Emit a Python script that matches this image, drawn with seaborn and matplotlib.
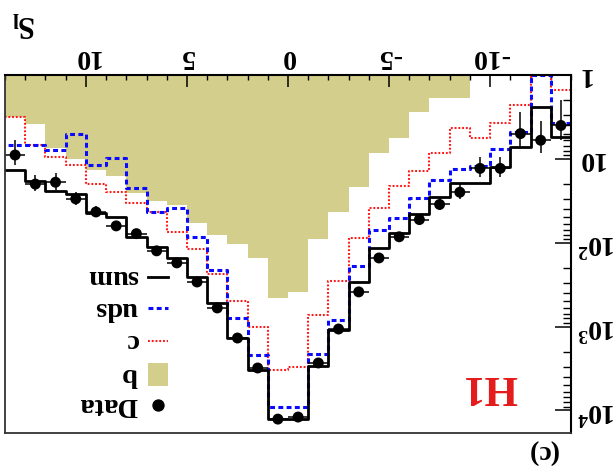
import numpy as np
import pandas as pd
import matplotlib
matplotlib.use("Agg")
import matplotlib.pyplot as plt
from matplotlib.lines import Line2D
from matplotlib.patches import Rectangle
from matplotlib.ticker import FixedLocator, FixedFormatter, LogLocator, NullFormatter, MultipleLocator
import seaborn as sns

# ---------------------------------------------------------------- data
# S_l bin centres (unit-width bins from -14 to 14)
s_l = [-13.5, -12.5, -11.5, -10.5, -9.5, -8.5, -7.5, -6.5, -5.5, -4.5,
       -3.5, -2.5, -1.5, -0.5, 0.5, 1.5, 2.5, 3.5, 4.5, 5.5,
       6.5, 7.5, 8.5, 9.5, 10.5, 11.5, 12.5, 13.5]

data_counts = [4, 6, 5, 13, 13, 25, 35, 53, 85, 152,
               386, 1070, 2720, 12000, 12700, 3120, 1370, 600, 294, 174,
               125, 78, 63, 43, 30, 19, 20, 9]

b_mc = [0, 0, 0, 0, 0, 1.89, 1.89, 2.73, 5.66, 8.55,
        21.4, 42.5, 90, 390, 452, 153, 104, 80.7, 58.5, 35.4,
        31.7, 25.7, 15.8, 13.5, 10.0, 7.45, 3.85, 3.2]

c_mc = [1.53, 1.0, 2.27, 3.7, 5.6, 4.3, 8.5, 13.9, 21.2, 38.7,
        87.6, 286, 728, 3060, 3300, 1000, 491, 236, 119, 75,
        42.5, 33.8, 25, 19.9, 12.0, 9.4, 6.9, 3.2]

uds_mc = [3.75, 1.0, 4.85, 7.6, 12.3, 13.3, 17.8, 29.2, 50.5, 70,
          189, 830, 2150, 9040, 9040, 2180, 796, 211, 84.5, 38.8,
          42.5, 22.4, 9.8, 12.0, 5.07, 7.8, 6.9, 6.9]

sum_mc = [5.45, 2.43, 7.2, 12.4, 19.3, 19.3, 28.4, 45.7, 77, 116,
          291, 1110, 2950, 12700, 12700, 3300, 1380, 524, 254, 151,
          114, 84.5, 50, 44.5, 26.2, 24.5, 18.3, 13.5]

x_ticks = [-10, -5, 0, 5, 10]
x_tick_labels = ["-10", "-5", "0", "5", "10"]
y_ticks = [1, 10, 100, 1000, 10000]
y_tick_labels = ["1", "10", "$10^{2}$", "$10^{3}$", "$10^{4}$"]

df = pd.DataFrame({"s_l": s_l, "data": data_counts, "b": b_mc,
                   "c": c_mc, "uds": uds_mc, "sum": sum_mc})
edges = (np.append(df["s_l"].to_numpy() - 0.5, df["s_l"].iloc[-1] + 0.5)).tolist()

# ---------------------------------------------------------------- style
plt.rcParams["font.family"] = ["Liberation Serif", "DejaVu Serif"]
plt.rcParams["font.weight"] = "bold"
plt.rcParams["mathtext.fontset"] = "custom"
plt.rcParams["mathtext.rm"] = "Liberation Serif:bold"
plt.rcParams["mathtext.it"] = "Liberation Serif:bold"
plt.rcParams["mathtext.bf"] = "Liberation Serif:bold"

OLIVE = "#d3ce8b"
RED = "#ff1a1a"
BLUE = "#0a0aff"
W, H = 616, 472

fig = plt.figure(figsize=(W / 100, H / 100), dpi=100)
ax = fig.add_axes([5 / W, 39 / H, 566 / W, 358 / H])
ax.set_yscale("log")

# b contribution: filled step histogram
sns.histplot(data=df, x="s_l", weights="b", bins=edges, element="step",
             fill=True, color=OLIVE, alpha=1.0, linewidth=0, ax=ax, zorder=1)
# c, uds and total MC as outlined step histograms
sns.histplot(data=df, x="s_l", weights="c", bins=edges, element="step",
             fill=False, color=RED, linewidth=1.5, linestyle=(0, (0.9, 0.9)),
             ax=ax, zorder=3)
sns.histplot(data=df, x="s_l", weights="uds", bins=edges, element="step",
             fill=False, color=BLUE, linewidth=2.2, linestyle=(0, (1.6, 1.1)),
             ax=ax, zorder=4)
sns.histplot(data=df, x="s_l", weights="sum", bins=edges, element="step",
             fill=False, color="black", linewidth=2.0, ax=ax, zorder=5)

# data points with Poisson errors
yerr = np.sqrt(df["data"].to_numpy())
ax.errorbar(df["s_l"], df["data"], xerr=0.5, yerr=yerr, fmt="none",
            ecolor="black", elinewidth=1.1, capsize=0, zorder=6)
sns.scatterplot(data=df, x="s_l", y="data", color="black", s=62,
                edgecolor="none", ax=ax, zorder=7, legend=False)

# ---------------------------------------------------------------- axes
ax.set_xlim(14, -14)
ax.set_ylim(1.86e4, 1)
ax.set_xlabel("")
ax.set_ylabel("")
ax.set_facecolor("white")

ax.xaxis.tick_top()
ax.yaxis.tick_right()
ax.xaxis.set_major_locator(FixedLocator(x_ticks))
ax.xaxis.set_major_formatter(FixedFormatter(x_tick_labels))
ax.xaxis.set_minor_locator(MultipleLocator(1))
ax.yaxis.set_major_locator(FixedLocator(y_ticks))
ax.yaxis.set_major_formatter(FixedFormatter(y_tick_labels))
ax.yaxis.set_minor_locator(LogLocator(base=10, subs=np.arange(2, 10)))
ax.yaxis.set_minor_formatter(NullFormatter())

ax.tick_params(axis="x", which="major", direction="in", length=8.6, width=1.1,
               labelsize=20, pad=4, labelrotation=180)
ax.tick_params(axis="x", which="minor", direction="in", length=3.8, width=1.0)
ax.tick_params(axis="y", which="major", direction="in", length=11.5, width=1.1,
               labelsize=20, pad=4, labelrotation=180)
ax.tick_params(axis="y", which="minor", direction="in", length=5.8, width=1.0)
for lab in ax.get_yticklabels():
    lab.set_verticalalignment("center")
for lab in ax.get_xticklabels() + ax.get_yticklabels():
    lab.set_fontweight("bold")

for side in ["top", "right"]:
    ax.spines[side].set_linewidth(1.5)
    ax.spines[side].set_color("black")
for side in ["bottom", "left"]:
    ax.spines[side].set_linewidth(1.3)
    ax.spines[side].set_color("#333333")
for sp in ax.spines.values():
    sp.set_zorder(10)


def fxy(px, py):
    return px / W, 1 - py / H


# ---------------------------------------------------------------- texts
fig.text(*fxy(24, 23), "$S_{l}$", fontsize=22, rotation=180,
         ha="center", va="center")
fig.text(*fxy(490, 386), "H1", fontsize=31, color="#e31b1b",
         fontweight="bold", rotation=180, ha="center", va="center")
fig.text(*fxy(542, 451), "(c)", fontsize=20, fontweight="bold",
         rotation=180, ha="center", va="center")

# ---------------------------------------------------------------- legend
rows = {"sum": 277, "uds": 308, "c": 341, "b": 374, "Data": 405}
tf = fig.transFigure
for name, py in rows.items():
    fig.text(*fxy(138, py), name, fontsize=20.5, fontweight="bold",
             rotation=180, ha="right", va="center")

x0, y0 = fxy(148, rows["sum"])
x1, _ = fxy(168, rows["sum"])
fig.add_artist(Line2D([x0, x1], [y0, y0], transform=tf, color="black", lw=2.0))
x0, y0 = fxy(148, rows["uds"])
fig.add_artist(Line2D([x0, x1], [y0, y0], transform=tf, color=BLUE, lw=2.2,
                      linestyle=(0, (1.6, 1.1))))
x0, y0 = fxy(148, rows["c"])
fig.add_artist(Line2D([x0, x1], [y0, y0], transform=tf, color=RED, lw=1.5,
                      linestyle=(0, (0.9, 0.9))))
rx, ry = fxy(148, rows["b"] + 11.5)
fig.add_artist(Rectangle((rx, ry), 20 / W, 23 / H, transform=tf,
                         facecolor=OLIVE, edgecolor="none"))
mx, my = fxy(158, rows["Data"])
fig.add_artist(Line2D([mx], [my], transform=tf, marker="o", markersize=7.9,
                      color="black", linestyle="none"))

fig.savefig("out.png", dpi=100, facecolor="white")
